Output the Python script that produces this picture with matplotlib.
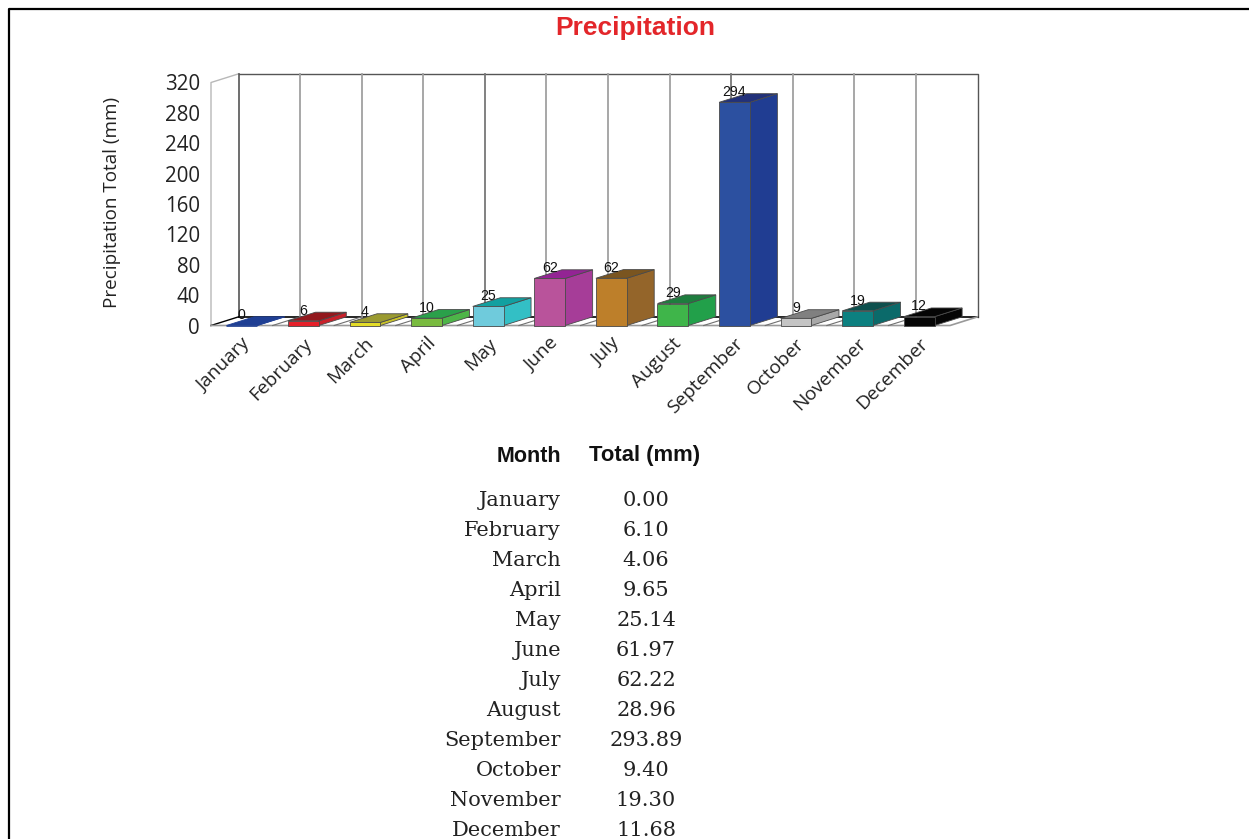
import matplotlib
matplotlib.use("Agg")
import matplotlib.pyplot as plt
from matplotlib.lines import Line2D
from matplotlib.patches import Polygon
from matplotlib.transforms import ScaledTranslation

W, H = 1249, 839

months = ["January", "February", "March", "April", "May", "June", "July",
          "August", "September", "October", "November", "December"]
totals = [0.00, 6.10, 4.06, 9.65, 25.14, 61.97, 62.22, 28.96, 293.89, 9.40, 19.30, 11.68]
y_ticks = [0, 40, 80, 120, 160, 200, 240, 280, 320]

front_colors = ["#1f3f94", "#e5202a", "#e3dc26", "#79bb3f", "#6fcbdc", "#b9539b",
                "#bd7f2a", "#3fb54a", "#2c50a0", "#c4c4c4", "#0c8080", "#050505"]
side_colors = ["#1f3f94", "#c8202a", "#c9c32a", "#4db548", "#33bfc5", "#a63d98",
               "#94652a", "#22a04a", "#203d92", "#a8a8a8", "#0b6a6a", "#050505"]
top_colors = ["#1f3f94", "#92181d", "#9a9a30", "#2aa04a", "#12a0a0", "#932494",
              "#7a5520", "#1e7d3e", "#22317a", "#808080", "#0e504e", "#050505"]

# depth of the box, in category units and mm
DX = 0.447
DY = 11.4


def px(x, y):
    return x / W, 1 - y / H


fig = plt.figure(figsize=(W / 100, H / 100), dpi=100, facecolor="white")

# page frame
frame_x, frame_y = zip(px(9, H), px(9, 8.5), px(W, 8.5))
fig.add_artist(Line2D(frame_x, frame_y, transform=fig.transFigure, color="black", lw=1.6))

fig.text(*px(635, 28), "Precipitation", family="Liberation Sans", weight="bold",
         fontsize=19, color="#e3262a", ha="center", va="center")

ax = fig.add_axes([211 / W, 1 - 325.5 / H, 739 / W, 243 / H])
ax.set_xlim(0, 12)
ax.set_ylim(0, 320)
for s in ax.spines.values():
    s.set_visible(False)
ax.patch.set_alpha(0)

# walls and floor
ax.plot([0, 0, DX], [0, 320, 320 + DY], color="#b8b8b8", lw=1, clip_on=False, zorder=1)
ax.plot([DX, 12 + DX, 12 + DX], [320 + DY, 320 + DY, DY], color="#555555", lw=1, clip_on=False, zorder=1)
ax.plot([DX, DX], [DY, 320 + DY], color="#555555", lw=1.2, clip_on=False, zorder=1)
ax.plot([0, DX], [0, DY], color="black", lw=1, clip_on=False, zorder=1)
ax.plot([DX, 12 + DX], [DY, DY], color="black", lw=1.2, clip_on=False, zorder=1)
ax.plot([0, 12, 12 + DX], [0, 0, DY], color="#999999", lw=1.2, clip_on=False, zorder=1)
for i in range(1, 12):
    shade = "#777777" if i % 4 == 0 else "#a0a0a0"
    ax.plot([i + DX, i + DX], [DY, 320 + DY], color=shade, lw=1.3, clip_on=False, zorder=1)
    ax.plot([i, i + DX], [0, DY], color="#707070", lw=0.8, clip_on=False, zorder=1)

# 3D boxes, one slot each, front face half a slot wide
for i, v in enumerate(totals):
    x0, x1 = i + 0.25, i + 0.75
    z = 2 + i
    edge = "#4a4a4a" if v > 0 else front_colors[i]
    ax.add_patch(Polygon([(x1, 0), (x1 + DX, DY), (x1 + DX, v + DY), (x1, v)],
                         fc=side_colors[i], ec=edge, lw=0.6, clip_on=False, zorder=z))
    ax.add_patch(Polygon([(x0, v), (x1, v), (x1 + DX, v + DY), (x0 + DX, v + DY)],
                         fc=top_colors[i], ec=edge, lw=0.6, clip_on=False, zorder=z))
    ax.add_patch(Polygon([(x0, 0), (x1, 0), (x1, v), (x0, v)],
                         fc=front_colors[i], ec=edge, lw=0.6, clip_on=False, zorder=z))
    ax.annotate(f"{v:.0f}", (i + 0.5, v), xytext=(0, 7.4), textcoords="offset points",
                ha="center", va="center", family="Liberation Sans", fontsize=10.2,
                color="#111111", zorder=20, annotation_clip=False)

ax.set_yticks(y_ticks)
ax.set_xticks([i + 0.5 for i in range(12)])
ax.set_xticklabels(months)
ax.tick_params(axis="y", length=0, pad=8, labelsize=14.8, labelcolor="#222222")
ax.tick_params(axis="x", length=0, pad=11, labelsize=13.8, labelcolor="#222222")
for lab in ax.get_yticklabels():
    lab.set_family("Open Sans")
shift = ScaledTranslation(6 / 100, 0, fig.dpi_scale_trans)
for lab in ax.get_xticklabels():
    lab.set_family("Open Sans")
    lab.set_rotation(45)
    lab.set_ha("right")
    lab.set_va("center")
    lab.set_rotation_mode("anchor")
    lab.set_transform(lab.get_transform() + shift)

fig.text(*px(112, 202), "Precipitation Total (mm)", family="Open Sans", fontsize=13.6,
         color="#222222", rotation=90, ha="center", va="center")

# table below the chart
fig.text(*px(561, 456), "Month", family="Liberation Sans", weight="bold", fontsize=15.5,
         ha="right", va="center", color="#111111")
fig.text(*px(645, 456), "Total (mm)", family="Liberation Sans", weight="bold", fontsize=15.8,
         ha="center", va="center", color="#111111")
for i, (m, v) in enumerate(zip(months, totals)):
    y = 501 + 30 * i
    fig.text(*px(561, y), m, family="DejaVu Serif", fontsize=15, ha="right", va="center",
             color="#222222")
    fig.text(*px(646, y), f"{v:.2f}", family="DejaVu Serif", fontsize=15, ha="center",
             va="center", color="#222222")

fig.savefig("out.png", dpi=100)
